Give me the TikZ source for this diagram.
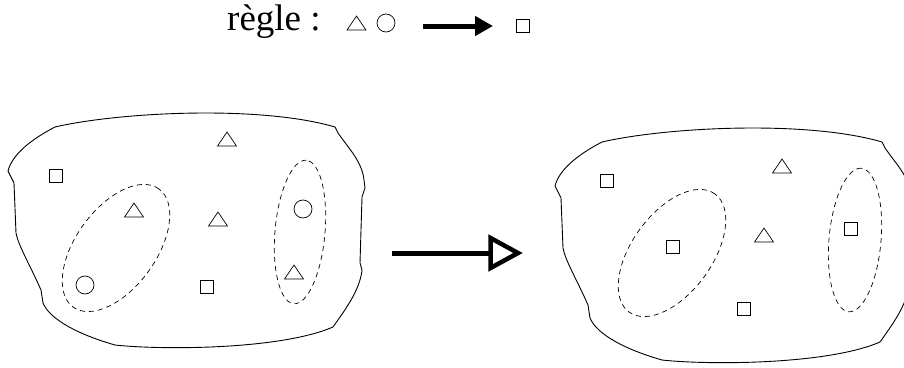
\documentclass[tikz,border=0pt]{standalone}
\usepackage{fontspec}
\setmainfont{Liberation Serif}
\usetikzlibrary{shapes.geometric,arrows.meta}

\tikzset{
  blob/.style={draw, line width=0.9pt},
  grp/.style={draw, dash pattern=on 5pt off 4pt, line width=0.7pt},
  tri/.style={draw, isosceles triangle, isosceles triangle stretches, shape border rotate=90, minimum width=19pt, minimum height=14pt, inner sep=0pt, line width=0.7pt},
  circ/.style={draw, circle, minimum size=18pt, inner sep=0pt, line width=0.7pt},
  sq/.style={draw, rectangle, minimum size=13pt, inner sep=0pt, line width=0.7pt},
}

\newcommand{\blobpath}{(8,171) .. controls (12,155) and (30,140) .. (55,127)
  .. controls (120,112) and (260,105) .. (335,127) -- (338,133)
  .. controls (350,150) and (362,162) .. (364,180) -- (365,188) -- (362,197)
  -- (360,263) -- (362,270) .. controls (360,290) and (345,310) .. (333,327)
  .. controls (280,350) and (160,350) .. (115,345)
  .. controls (80,335) and (50,320) .. (43,303) -- (41,290)
  .. controls (30,265) and (18,245) .. (16,233) -- (14,183) -- cycle}

\begin{document}
\begin{tikzpicture}[x=1pt,y=-1pt]
\useasboundingbox (0,0) rectangle (904,367);
% rule
\node[anchor=base west, inner sep=0pt, font=\fontsize{37}{44}\selectfont] (ruleTxt) at (227,30) {règle :};
\node[tri] (ruleT) at (356.5,25) {};
\node[circ] (ruleC) at (386,23) {};
\node[sq] (ruleS) at (522.5,25.5) {};
\coordinate (ruleFrom) at (423,26);
\coordinate (ruleTo) at (493,26);
\draw[line width=5pt, -{Triangle[length=18pt,width=19pt]}] (ruleFrom) -- (ruleTo);
% before
\draw[blob] \blobpath;
\draw[grp, shift={(116,248)}, rotate=54] (0,0) ellipse [x radius=73pt, y radius=40pt];
\draw[grp, shift={(300,232)}, rotate=85] (0,0) ellipse [x radius=72pt, y radius=25pt];
\node[tri] (beforeT1) at (227,141) {};
\node[sq] (beforeS1) at (56,176) {};
\node[tri] (beforeT2) at (134,212) {};
\node[tri] (beforeT3) at (218,221) {};
\node[circ] (beforeC1) at (303,209) {};
\node[tri] (beforeT4) at (294,274) {};
\node[circ] (beforeC2) at (85,285) {};
\node[sq] (beforeS2) at (207,287) {};
% step
\coordinate (stepFrom) at (392,253);
\coordinate (stepTo) at (491,253);
\draw[line width=5pt] (stepFrom) -- (stepTo);
\draw[line width=4.5pt, line join=miter] (490.5,238) -- (518,253) -- (490.5,268) -- cycle;
% after
\draw[blob, shift={(547,15)}] \blobpath;
\draw[grp, shift={(672,253)}, rotate=54] (0,0) ellipse [x radius=73pt, y radius=40pt];
\draw[grp, shift={(855,240)}, rotate=85] (0,0) ellipse [x radius=72pt, y radius=26pt];
\node[sq] (afterS1) at (607,181) {};
\node[tri] (afterT1) at (782,168) {};
\node[sq] (afterS2) at (673,247) {};
\node[tri] (afterT2) at (764,237) {};
\node[sq] (afterS3) at (851,229) {};
\node[sq] (afterS4) at (744,309) {};
\end{tikzpicture}
\end{document}
